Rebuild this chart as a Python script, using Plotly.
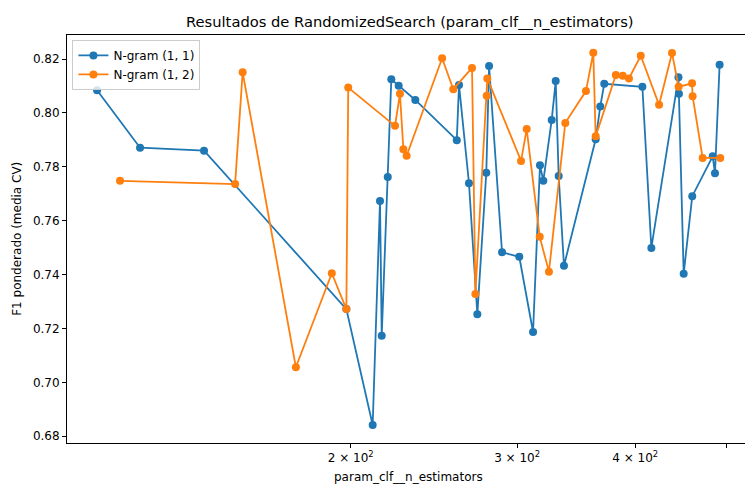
import numpy as np
import plotly.graph_objects as go

# Data
ngram11_x = [107.8, 119.7, 139.9, 197.9, 211.0, 214.8, 215.7, 218.9, 220.8, 224.8, 234.1,
             259.0, 260.4, 266.8, 272.3, 278.3, 280.2, 289.2, 301.6, 311.9, 317.2, 319.8,
             326.4, 329.6, 332.0, 336.3, 363.3, 367.4, 371.0, 407.1, 416.1, 444.5, 445.0,
             450.2, 459.7, 483.2, 485.9, 491.4]
ngram11_y = [0.8084, 0.7871, 0.7860, 0.7272, 0.6842, 0.7673, 0.7173, 0.7762, 0.8125, 0.8101,
             0.8048, 0.7899, 0.8104, 0.7739, 0.7253, 0.7778, 0.8174, 0.7483, 0.7466, 0.7187,
             0.7806, 0.7748, 0.7974, 0.8118, 0.7766, 0.7433, 0.7902, 0.8024, 0.8108, 0.8097,
             0.7499, 0.8132, 0.8071, 0.7403, 0.7691, 0.7839, 0.7776, 0.8179]

ngram12_x = [114.0, 150.9, 153.7, 175.0, 191.0, 197.9, 198.8, 222.8, 225.5, 227.4, 229.2,
             249.9, 256.8, 268.8, 271.0, 278.6, 279.0, 302.9, 307.1, 317.0, 324.2, 337.4,
             354.8, 361.2, 363.3, 381.6, 388.1, 394.0, 405.5, 424.0, 437.6, 444.7, 459.5,
             460.1, 471.5, 492.2]
ngram12_y = [0.7748, 0.7736, 0.8151, 0.7056, 0.7405, 0.7272, 0.8094, 0.7952, 0.8071, 0.7865,
             0.7841, 0.8203, 0.8088, 0.8167, 0.7328, 0.8064, 0.8128, 0.7822, 0.7940, 0.7540,
             0.7411, 0.7963, 0.8081, 0.8223, 0.7913, 0.8141, 0.8138, 0.8128, 0.8212, 0.8030,
             0.8222, 0.8097, 0.8110, 0.8062, 0.7833, 0.7833]

series_names = ["N-gram (1, 1)", "N-gram (1, 2)"]
series_colors = ["#1f77b4", "#ff7f0e"]

x_tickvals = [200, 300, 400]
x_ticktext = ["2 × 10<sup>2</sup>", "3 × 10<sup>2</sup>", "4 × 10<sup>2</sup>"]
x_unlabeled_ticks = [500]
y_tickvals = [0.68, 0.70, 0.72, 0.74, 0.76, 0.78, 0.80, 0.82]
y_ticktext = ["0.68", "0.70", "0.72", "0.74", "0.76", "0.78", "0.80", "0.82"]

FONT = "DejaVu Sans"

fig = go.Figure()
for xs, ys, name, col in [(ngram11_x, ngram11_y, series_names[0], series_colors[0]),
                          (ngram12_x, ngram12_y, series_names[1], series_colors[1])]:
    fig.add_trace(go.Scatter(
        x=xs, y=ys, mode="lines+markers", name=name,
        line=dict(color=col, width=1.8),
        marker=dict(color=col, size=8, symbol="circle"),
    ))

fig.update_layout(
    width=745, height=485,
    margin=dict(l=67, r=0, t=35, b=42),
    paper_bgcolor="white", plot_bgcolor="white",
    font=dict(family=FONT, size=12, color="black"),
    showlegend=True,
    legend=dict(
        x=0.008, y=0.988, xanchor="left", yanchor="top",
        bgcolor="rgba(255,255,255,0.8)", bordercolor="#cccccc", borderwidth=1,
        font=dict(family=FONT, size=12, color="black"),
        tracegroupgap=0,
    ),
    xaxis=dict(
        type="log", range=[2.0008, 2.7183],
        tickmode="array", tickvals=x_tickvals, ticktext=x_ticktext,
        minor=dict(tickmode="array", tickvals=x_unlabeled_ticks, ticks="outside",
                   ticklen=4, tickwidth=1, tickcolor="black", showgrid=False),
        showgrid=False, zeroline=False,
        showline=True, linecolor="black", linewidth=1, mirror=True,
        ticks="outside", ticklen=4, tickwidth=1, tickcolor="black",
        tickfont=dict(family=FONT, size=12, color="black"),
    ),
    yaxis=dict(
        range=[0.67751, 0.82891],
        tickmode="array", tickvals=y_tickvals, ticktext=y_ticktext,
        showgrid=False, zeroline=False,
        showline=True, linecolor="black", linewidth=1, mirror=False,
        ticks="outside", ticklen=4, tickwidth=1, tickcolor="black",
        tickfont=dict(family=FONT, size=12, color="black"),
    ),
    annotations=[
        dict(text="Resultados de RandomizedSearch (param_clf__n_estimators)",
             xref="paper", yref="paper", x=0.506, y=1.034,
             xanchor="center", yanchor="middle", showarrow=False,
             font=dict(family=FONT, size=14.7, color="black")),
        dict(text="param_clf__n_estimators",
             xref="paper", yref="paper", x=0.503, y=-0.083,
             xanchor="center", yanchor="middle", showarrow=False,
             font=dict(family=FONT, size=12, color="black")),
        dict(text="F1 ponderado (media CV)",
             xref="paper", yref="paper", x=-0.074, y=0.5,
             xanchor="center", yanchor="middle", showarrow=False, textangle=-90,
             font=dict(family=FONT, size=12, color="black")),
    ],
)

fig.write_html("out.html")
